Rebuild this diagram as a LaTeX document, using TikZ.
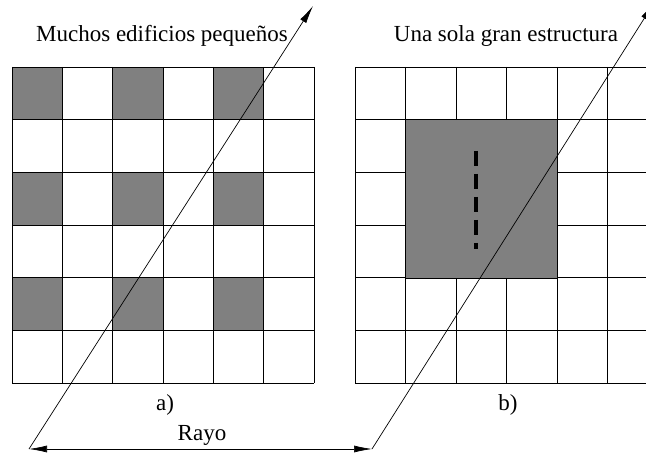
\documentclass[tikz,border=0pt]{standalone}
\usepackage{fontspec}
\setmainfont{Liberation Serif}
\usetikzlibrary{arrows.meta}

\begin{document}
\begin{tikzpicture}[x=1pt,y=-1pt,line width=0.9pt,
  tip/.style={-{Latex[length=18pt,width=7pt]}},
  lbl/.style={anchor=base,font=\rmfamily\fontsize{23}{27}\selectfont}]
\useasboundingbox (0,0) rectangle (646,457);
\clip (0,0) rectangle (646,457);

\foreach \i in {0,2,4}
  \foreach \j in {0,2,4}
	{\fill[gray] (12+\i*50.33,67+\j*52.67) rectangle ++(50.33,52.67);};
\foreach \i in {0,...,6}
	{\draw (12+\i*50.33,67) -- (12+\i*50.33,383);
	 \draw (12,67+\i*52.67) -- (314,67+\i*52.67);};

\foreach \i in {0,...,6}
	{\draw (355+\i*50.5,67) -- (355+\i*50.5,383);
	 \draw (355,67+\i*52.67) -- (658,67+\i*52.67);};
\filldraw[fill=gray] (405.5,119.67) rectangle (557,278);
\draw[line width=4pt,dash pattern=on 15.5pt off 7.5pt] (476,151) -- (476,249);

\node[lbl] (titleA) at (162,42) {Muchos edificios pequeños};
\node[lbl] (titleB) at (506,42) {Una sola gran estructura};
\node[lbl] (labelA) at (165,410) {a)};
\node[lbl] (labelB) at (508,410) {b)};
\node[lbl] (rayo) at (202,440) {Rayo};

\coordinate (rayA) at (29,449);
\coordinate (rayB) at (372,449);
\coordinate (topA) at (313,6);
\coordinate (topB) at (654,3);
\draw[tip,line width=0.7pt] (rayA) -- (topA);
\draw[tip,line width=0.7pt] (rayB) -- (topB);
\draw[{Latex[length=18pt,width=7pt]}-{Latex[length=18pt,width=7pt]},line width=0.7pt] (rayA) -- (rayB);
\end{tikzpicture}
\end{document}
